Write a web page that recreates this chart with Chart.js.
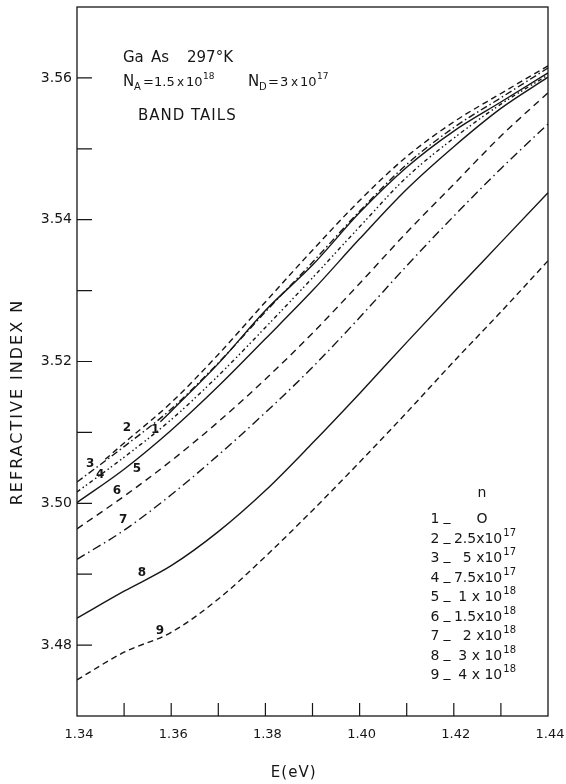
<!DOCTYPE html>
<html>
<head>
<meta charset="utf-8">
<script src="https://cdn.jsdelivr.net/npm/chart.js@4.4.0/dist/chart.umd.min.js"></script>
<style>
    html, body { margin: 0; padding: 0; background: #fff; }
</style>
</head>
<body>
<canvas id="myChart" width="566" height="784"></canvas>
<script>
// photon energy (eV) shared by most curves
const energy = [1.34, 1.35, 1.36, 1.37, 1.38, 1.39, 1.40, 1.41, 1.42, 1.43, 1.44];

// curves 1 and 2 start a bit inside the plot
const energy1 = [1.3577, 1.36, 1.37, 1.38, 1.39, 1.40, 1.41, 1.42, 1.43, 1.44];
const energy2 = [1.346, 1.35, 1.36, 1.37, 1.38, 1.39, 1.40, 1.41, 1.42, 1.43, 1.44];

// refractive index N for each curve
const index1 = [3.5115, 3.5130, 3.5197, 3.5272, 3.5336, 3.5410, 3.5474, 3.5525, 3.5566, 3.5607];
const index2 = [3.5062, 3.5085, 3.5142, 3.5210, 3.5284, 3.5357, 3.5427, 3.5489, 3.5538, 3.5578, 3.5617];
const index3 = [3.5030, 3.5080, 3.5133, 3.5198, 3.5270, 3.5340, 3.5412, 3.5478, 3.5530, 3.5572, 3.5614];
const index4 = [3.5016, 3.5065, 3.5118, 3.5180, 3.5248, 3.5318, 3.5390, 3.5460, 3.5515, 3.5563, 3.5604];
const index5 = [3.5001, 3.5048, 3.5103, 3.5165, 3.5232, 3.5300, 3.5373, 3.5443, 3.5503, 3.5557, 3.5601];
const index6 = [3.4964, 3.5010, 3.5060, 3.5115, 3.5175, 3.5240, 3.5310, 3.5382, 3.5450, 3.5518, 3.5579];
const index7 = [3.4921, 3.4962, 3.5012, 3.5068, 3.5128, 3.5192, 3.5262, 3.5335, 3.5405, 3.5472, 3.5535];
const index8 = [3.4838, 3.4876, 3.4912, 3.4960, 3.5018, 3.5085, 3.5155, 3.5227, 3.5298, 3.5368, 3.5438];
const index9 = [3.4751, 3.4790, 3.4818, 3.4865, 3.4925, 3.4990, 3.5058, 3.5128, 3.5200, 3.5270, 3.5342];

// curve number labels, in data units
const curveNames = ["1", "2", "3", "4", "5", "6", "7", "8", "9"];
const curveLabelE = [1.3566, 1.3506, 1.3428, 1.3449, 1.3527, 1.3485, 1.3498, 1.3538, 1.3576];
const curveLabelN = [3.5104, 3.5106, 3.5056, 3.5040, 3.5048, 3.5018, 3.4977, 3.4902, 3.4820];

// key: hole concentration n for each curve
const keyMantissa = ["O", "2.5x10", "5 x10", "7.5x10", "1 x 10", "1.5x10", "2 x10", "3 x 10", "4 x 10"];
const keyExponent = ["", "17", "17", "17", "18", "18", "18", "18", "18"];

const ink = "#161616";
const font = "'DejaVu Sans', sans-serif";

const dashes = [
    [],            // 1
    [6, 4],        // 2
    [7, 3, 1.5, 3],// 3
    [4, 3, 1.5, 2.5, 1.5, 3], // 4
    [],            // 5
    [7, 5],        // 6
    [9, 4, 1.5, 4],// 7
    [],            // 8
    [6, 4]         // 9
];

function toPoints(xs, ys) {
    var pts = [];
    for (var i = 0; i < xs.length; i++) {
        pts.push({ x: xs[i], y: ys[i] });
    }
    return pts;
}

var series = [
    toPoints(energy1, index1),
    toPoints(energy2, index2),
    toPoints(energy, index3),
    toPoints(energy, index4),
    toPoints(energy, index5),
    toPoints(energy, index6),
    toPoints(energy, index7),
    toPoints(energy, index8),
    toPoints(energy, index9)
];

var datasets = [];
for (var i = 0; i < series.length; i++) {
    datasets.push({
        label: curveNames[i],
        data: series[i],
        borderColor: ink,
        borderWidth: 1.4,
        borderDash: dashes[i],
        pointRadius: 0,
        fill: false,
        cubicInterpolationMode: "monotone"
    });
}

// text pieces placed at an x offset from the plot's left edge
function pieces(ctx, left, y, list) {
    list.forEach(p => {
        ctx.font = (p.s || 15) + "px " + font;
        ctx.fillText(p.t, left + p.x, y + (p.dy || 0));
    });
}

const paperPlugin = {
    id: "paper",
    afterDraw(chart) {
        const ctx = chart.ctx;
        const a = chart.chartArea;
        const xs = chart.scales.x;
        const ys = chart.scales.y;
        ctx.save();

        // frame
        ctx.strokeStyle = ink;
        ctx.lineWidth = 1.3;
        ctx.strokeRect(a.left, a.top, a.right - a.left, a.bottom - a.top);

        // inward ticks
        ctx.lineWidth = 1.2;
        ctx.beginPath();
        ys.ticks.forEach(t => {
            var py = ys.getPixelForValue(t.value);
            if (py <= a.top + 2 || py >= a.bottom - 2) return;
            ctx.moveTo(a.left, py);
            ctx.lineTo(a.left + 15, py);
        });
        xs.ticks.forEach(t => {
            var px = xs.getPixelForValue(t.value);
            if (px <= a.left + 2 || px >= a.right - 2) return;
            ctx.moveTo(px, a.bottom);
            ctx.lineTo(px, a.bottom - 13);
        });
        ctx.stroke();

        ctx.fillStyle = ink;

        // curve numbers
        ctx.font = "bold 12px " + font;
        ctx.textAlign = "center";
        ctx.textBaseline = "middle";
        for (var i = 0; i < curveNames.length; i++) {
            ctx.fillText(curveNames[i], xs.getPixelForValue(curveLabelE[i]), ys.getPixelForValue(curveLabelN[i]));
        }

        // header notes
        ctx.textAlign = "left";
        ctx.textBaseline = "alphabetic";
        pieces(ctx, a.left, 62, [{ t: "Ga", x: 46 }, { t: "As", x: 74 }, { t: "297°K", x: 110 }]);
        pieces(ctx, a.left, 86, [
            { t: "N", x: 46 }, { t: "A", x: 57, s: 10, dy: 4 }, { t: "=", x: 66, s: 13 },
            { t: "1.5", x: 77, s: 13 }, { t: "x", x: 100, s: 12 }, { t: "10", x: 109, s: 13 },
            { t: "18", x: 126, s: 9, dy: -7 },
            { t: "N", x: 171 }, { t: "D", x: 182, s: 10, dy: 4 }, { t: "=", x: 191, s: 13 },
            { t: "3", x: 203, s: 13 }, { t: "x", x: 214, s: 12 }, { t: "10", x: 223, s: 13 },
            { t: "17", x: 240, s: 9, dy: -7 }
        ]);
        ctx.font = "15px " + font;
        ctx.letterSpacing = "1px";
        ctx.fillText("BAND TAILS", a.left + 61, 120);
        ctx.letterSpacing = "0px";

        // key
        var keyRight = a.right - 32;
        ctx.font = "14px " + font;
        ctx.textAlign = "center";
        ctx.fillText("n", keyRight - 34, 497);
        for (var k = 0; k < keyMantissa.length; k++) {
            var ky = 523 + k * 19.5;
            ctx.font = "14px " + font;
            ctx.textAlign = "center";
            ctx.fillText(curveNames[k], keyRight - 81, ky);
            ctx.fillText("_", keyRight - 69, ky - 2);
            if (!keyExponent[k]) {
                ctx.fillText(keyMantissa[k], keyRight - 34, ky);
                continue;
            }
            ctx.font = "10px " + font;
            ctx.textAlign = "right";
            ctx.fillText(keyExponent[k], keyRight, ky - 7);
            var ew = ctx.measureText(keyExponent[k]).width;
            ctx.font = "14px " + font;
            ctx.fillText(keyMantissa[k], keyRight - ew - 1, ky);
        }

        // axis titles
        ctx.font = "15px " + font;
        ctx.textAlign = "center";
        ctx.textBaseline = "middle";
        ctx.letterSpacing = "1px";
        ctx.fillText("E(eV)", a.left + (a.right - a.left) * 0.46, 773);
        ctx.translate(18, 402);
        ctx.rotate(-Math.PI / 2);
        ctx.font = "16px " + font;
        ctx.letterSpacing = "2px";
        ctx.fillText("REFRACTIVE INDEX N", 0, 0);
        ctx.restore();
    }
};

const config = {
    type: "line",
    data: { datasets: datasets },
    options: {
        responsive: false,
        animation: false,
        layout: { padding: { top: 7, right: 18, left: 0, bottom: 0 } },
        plugins: {
            legend: { display: false },
            tooltip: { enabled: false },
            title: { display: false }
        },
        scales: {
            x: {
                type: "linear",
                min: 1.34,
                max: 1.44,
                grid: { display: false, drawTicks: false },
                border: { display: false },
                afterFit: s => { s.height = 68; s.paddingLeft = 0; s.paddingRight = 0; },
                ticks: {
                    stepSize: 0.01,
                    padding: 11,
                    labelOffset: 2,
                    color: ink,
                    font: { family: font, size: 13 },
                    maxRotation: 0,
                    autoSkip: false,
                    callback: v => Math.round(v * 100) % 2 === 0 ? v.toFixed(2) : ""
                }
            },
            y: {
                min: 3.47,
                max: 3.57,
                grid: { display: false, drawTicks: false },
                border: { display: false },
                afterFit: s => { s.width = 77; s.paddingTop = 0; s.paddingBottom = 0; },
                ticks: {
                    stepSize: 0.01,
                    padding: 5,
                    color: ink,
                    font: { family: font, size: 14 },
                    autoSkip: false,
                    callback: v => Math.round(v * 100) % 2 === 0 ? v.toFixed(2) : ""
                }
            }
        }
    },
    plugins: [paperPlugin]
};

new Chart(document.getElementById("myChart"), config);
</script>
</body>
</html>
